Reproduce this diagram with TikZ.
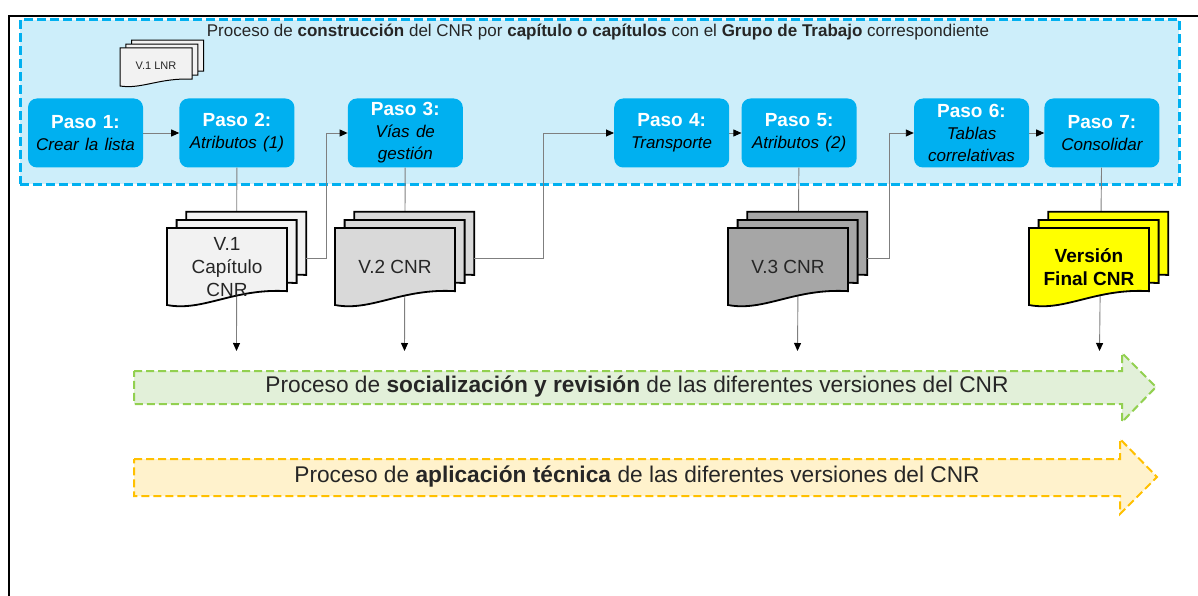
\documentclass[tikz,border=0pt]{standalone}
\usepackage{fontspec}
\setmainfont{Liberation Sans}
\usetikzlibrary{positioning,arrows.meta}

\definecolor{pasoazul}{HTML}{00B0F0}
\definecolor{grupofondo}{HTML}{CDEEFA}
\definecolor{docclaro}{HTML}{F2F2F2}
\definecolor{docmedio}{HTML}{D9D9D9}
\definecolor{docoscuro}{HTML}{A6A6A6}
\definecolor{docfinal}{HTML}{FFFF00}
\definecolor{verdeborde}{HTML}{92D050}
\definecolor{verdefondo}{HTML}{E2F0D9}
\definecolor{naranjaborde}{HTML}{FFC000}
\definecolor{naranjafondo}{HTML}{FFF2CC}
\definecolor{conector}{HTML}{7F7F7F}

\newcommand{\pasosub}[1]{{\color{black}\fontsize{17}{22}\selectfont\itshape #1}}

% three stacked pages: name, front top-left x, y, width, height, options
\newcommand{\docstack}[6]{%
  \foreach \k in {2,1,0}
    \draw[#6, shift={(#2+0.08*#4*\k, #3-0.105*#5*\k)}]
      (0,0) -- (#4,0) -- (#4,0.82*#5) .. controls (0.55*#4,0.78*#5) and (0.3*#4,1.09*#5) .. (0,#5) -- cycle;
  \coordinate (#1-r) at (#2+1.16*#4, #3+0.4*#5);
}

\begin{document}
\begin{tikzpicture}[x=1pt, y=-1pt,
    paso/.style={rectangle, rounded corners=9pt, fill=pasoazul, text=white, minimum width=115pt, minimum height=69pt, text width=112pt, align=center, inner sep=0pt, font=\fontsize{19}{22}\selectfont},
    conector/.style={draw=conector, line width=0.9pt, -{Triangle[width=7pt, length=8pt, color=black]}},
    pagina/.style={draw=black, line width=1.8pt},
    doctexto/.style={align=center, text=black!85, font=\fontsize{19}{23}\selectfont},
    proceso/.style={line width=2pt, dash pattern=on 8pt off 4pt}]
    \useasboundingbox (0,0) rectangle (1198,596);

    % Frame
    \draw[line width=1.2pt] (8,16) -- (1198,16);
    \draw[line width=2.5pt] (1183,16) -- (1198,16);
    \draw[line width=2.5pt] (9,16) -- (9,596);

    % Working group area
    \node[draw=pasoazul, fill=grupofondo, line width=2.5pt, dash pattern=on 9pt off 4pt, minimum width=1159pt, minimum height=164.5pt, inner sep=0pt, anchor=north west] (grupo) at (19,18.5) {};
    \node[font=\fontsize{17}{20}\selectfont, text=black!85] (titulo) at (598,32) {Proceso de \textbf{construcción} del CNR por \textbf{capítulo o capítulos} con el \textbf{Grupo de Trabajo} correspondiente};

    % Steps
    \node[paso] (p1) at (85.5,133) {\textbf{Paso 1:}\\\pasosub{Crear la lista}};
    \node[paso, right=36pt of p1] (p2) {\textbf{Paso 2:}\\\pasosub{Atributos (1)}};
    \node[paso, right=53pt of p2] (p3) {\textbf{Paso 3:}\\\pasosub{Vías de}\\\pasosub{gestión}};
    \node[paso, right=151pt of p3] (p4) {\textbf{Paso 4:}\\\pasosub{Transporte}};
    \node[paso, right=12pt of p4] (p5) {\textbf{Paso 5:}\\\pasosub{Atributos (2)}};
    \node[paso, right=57pt of p5] (p6) {\textbf{Paso 6:}\\\pasosub{Tablas}\\\pasosub{correlativas}};
    \node[paso, right=15pt of p6] (p7) {\textbf{Paso 7:}\\\pasosub{Consolidar}};

    % Initial list
    \docstack{lnr}{120}{48}{72}{38}{draw=black, line width=1pt, fill=docclaro}
    \node[font=\fontsize{11}{13}\selectfont, text=black!85] (lnr) at (156,66) {V.1 LNR};

    % Versions going down
    \coordinate (s2) at (236.5,351);
    \coordinate (s3) at (404.5,351);
    \coordinate (s5) at (797.5,351);
    \coordinate (s7) at (1099.5,351);
    \draw[conector] (p2) -- (s2);
    \draw[conector] (p3) -- (s3);
    \draw[conector] (p5) -- (s5);
    \draw[conector] (p7) -- (s7);

    \docstack{v1}{167}{228}{120}{77}{pagina, fill=docclaro}
    \docstack{v2}{335}{228}{120}{77}{pagina, fill=docmedio}
    \docstack{v3}{728}{228}{120}{77}{pagina, fill=docoscuro}
    \docstack{vf}{1029}{228}{120}{77}{pagina, fill=docfinal}
    \node[doctexto] (v1) at (227,267) {V.1\\Capítulo\\CNR};
    \node[doctexto] (v2) at (395,267) {V.2 CNR};
    \node[doctexto] (v3) at (788,267) {V.3 CNR};
    \node[doctexto, text=black, font=\fontsize{19}{23}\selectfont\bfseries] (vf) at (1089,267) {Versión\\Final CNR};

    % Arrows between steps
    \draw[conector] (p1) -- (p2);
    \draw[conector] (v1-r) -- ++(20,0) |- (p3);
    \draw[conector] (v2-r) -- ++(69,0) |- (p4);
    \draw[conector] (p4) -- (p5);
    \draw[conector] (v3-r) -- ++(22,0) |- (p6);
    \draw[conector] (p6) -- (p7);

    % Review and application processes
    \draw[proceso, draw=verdeborde, fill=verdefondo] (134,371) -- (1122,371) -- (1122,353) -- (1156,387) -- (1122,422) -- (1122,404) -- (134,404) -- cycle;
    \node[font=\fontsize{22.7}{26}\selectfont, text=black!85] (socializacion) at (637,387) {Proceso de \textbf{socialización y revisión} de las diferentes versiones del CNR};
    \draw[proceso, draw=naranjaborde, fill=naranjafondo] (134,459) -- (1120,459) -- (1120,439) -- (1157,477) -- (1120,514) -- (1120,496) -- (134,496) -- cycle;
    \node[font=\fontsize{22.7}{26}\selectfont, text=black!85] (aplicacion) at (637,477) {Proceso de \textbf{aplicación técnica} de las diferentes versiones del CNR};

\end{tikzpicture}
\end{document}
